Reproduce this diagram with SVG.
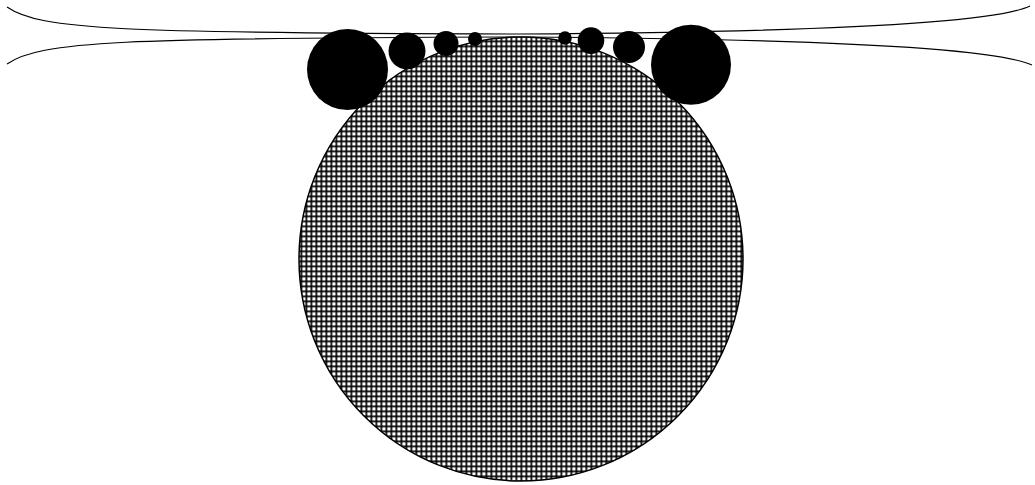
<svg xmlns="http://www.w3.org/2000/svg" width="1035" height="485" viewBox="0 0 1035 485">
  <defs>
    <pattern id="grid" patternUnits="userSpaceOnUse" x="0.5" y="0.5" width="5" height="5">
      <rect x="0" y="0" width="5" height="5" fill="#ffffff"/>
      <rect x="0" y="0" width="1.7" height="5" fill="#000000"/>
      <rect x="0" y="0" width="5" height="1.7" fill="#000000"/>
    </pattern>
  </defs>
  <style>
    .curve { fill: none; stroke: #000000; stroke-width: 1.1; }
    .ball { fill: #000000; stroke: none; }
    .big { fill: url(#grid); stroke: #000000; stroke-width: 1.5; }
  </style>
  <rect x="0" y="0" width="1035" height="485" fill="#ffffff"/>
  <g id="curves">
    <path class="curve" d="M7,7 C40,30 120,33 520,34 C837,32 997,22 1030,6"/>
    <path class="curve" d="M7,64 C40,41 120,38 520,37 C837,39 997,49 1032,65"/>
  </g>
  <g id="main-circle">
    <circle class="big" cx="521" cy="259" r="222"/>
  </g>
  <g id="balls">
    <circle id="ball1" class="ball" cx="347.5" cy="69.5" r="40.5"/>
    <circle id="ball2" class="ball" cx="407" cy="51" r="18.5"/>
    <circle id="ball3" class="ball" cx="446" cy="43.5" r="12.5"/>
    <circle id="ball4" class="ball" cx="475" cy="39" r="7"/>
    <circle id="ball5" class="ball" cx="565" cy="38" r="6.8"/>
    <circle id="ball6" class="ball" cx="591" cy="40.6" r="13.3"/>
    <circle id="ball7" class="ball" cx="629" cy="47" r="16"/>
    <circle id="ball8" class="ball" cx="691" cy="64.7" r="40"/>
  </g>
</svg>
